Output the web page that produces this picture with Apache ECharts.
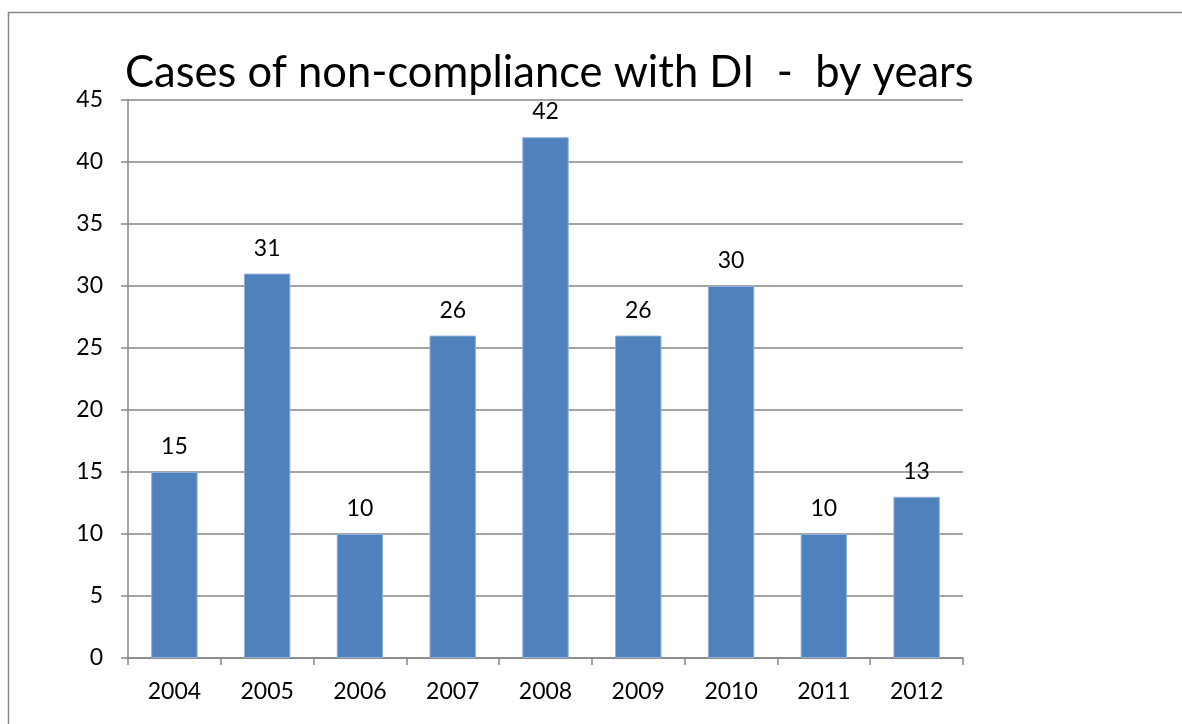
<!DOCTYPE html>
<html>
<head>
<meta charset="utf-8">
<script src="https://cdn.jsdelivr.net/npm/echarts@6/dist/echarts.min.js"></script>
<style>
  html, body { margin: 0; padding: 0; background: #fff; }
  #chart { width: 1182px; height: 724px; }
</style>
</head>
<body>
<div id="chart"></div>
<script>
// 数据
var years = ['2004', '2005', '2006', '2007', '2008', '2009', '2010', '2011', '2012'];
var cases = [15, 31, 10, 26, 42, 26, 30, 10, 13];
var chartTitle = 'Cases of non-compliance with DI  -  by years';

var myChart = echarts.init(document.getElementById('chart'));
var font = 'Lato, "Open Sans", sans-serif';

var option = {
  backgroundColor: '#fff',
  animation: false,
  title: {
    text: chartTitle,
    left: 120,
    top: 46,
    textStyle: {
      fontFamily: font,
      fontSize: 43.5,
      fontWeight: 'normal',
      color: '#000'
    }
  },
  // 外框
  graphic: [{
    type: 'rect',
    shape: { x: 8.5, y: 12.5, width: 1400, height: 900 },
    style: { fill: 'none', stroke: '#888', lineWidth: 1.5 },
    silent: true
  }],
  grid: {
    left: 128,
    right: 219,
    top: 100,
    bottom: 66
  },
  xAxis: {
    type: 'category',
    data: years,
    axisLine: { lineStyle: { color: '#868686', width: 1.5 } },
    axisTick: { show: true, length: 7, lineStyle: { color: '#868686', width: 1.5 } },
    axisLabel: {
      margin: 22,
      fontFamily: font,
      fontSize: 23,
      color: '#000'
    }
  },
  yAxis: {
    type: 'value',
    min: 0,
    max: 45,
    interval: 5,
    axisLine: { show: true, lineStyle: { color: '#868686', width: 1.5 } },
    axisTick: { show: true, length: 7, lineStyle: { color: '#868686', width: 1.5 } },
    splitLine: { lineStyle: { color: '#868686', width: 1.5 } },
    axisLabel: {
      margin: 25,
      fontFamily: font,
      fontSize: 23,
      color: '#000'
    }
  },
  series: [{
    type: 'bar',
    data: cases,
    barWidth: '50%',
    itemStyle: {
      color: '#4F81BD',
      borderColor: '#8EB0DA',
      borderWidth: 1
    },
    label: {
      show: true,
      position: 'top',
      distance: 14,
      fontFamily: font,
      fontSize: 23,
      color: '#000'
    }
  }]
};
myChart.setOption(option);
</script>
</body>
</html>
